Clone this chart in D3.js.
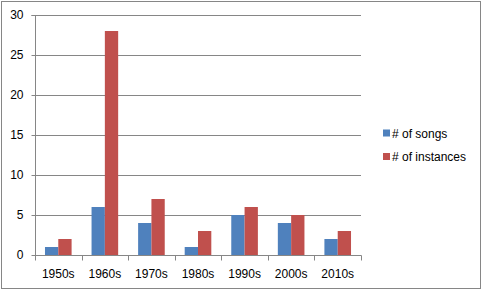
<!DOCTYPE html>
<html><head><meta charset="utf-8">
<script src="https://cdn.jsdelivr.net/npm/d3@7"></script>
<style>body{margin:0;background:#fff}svg{display:block}text{font-family:"Liberation Sans",Arial,sans-serif;font-size:12px;fill:#000}</style>
</head><body>
<svg id="c" width="483" height="291"></svg>
<script>
const categories = ["1950s","1960s","1970s","1980s","1990s","2000s","2010s"];
const songs = [1,6,4,1,5,4,2];
const instances = [2,28,7,3,6,5,3];
const seriesNames = ["# of songs","# of instances"];
const colors = ["#4F81BD","#C0504D"];
const yTicks = [0,5,10,15,20,25,30];

const svg = d3.select("#c");
svg.append("rect").attr("x",1.5).attr("y",1.5).attr("width",479).attr("height",287)
  .attr("fill","#fff").attr("stroke","#868686").attr("stroke-width",1);

const L=35, R=361, T=15, B=255;
const x = d3.scaleBand().domain(categories).range([L,R]).paddingInner(0).paddingOuter(0);
const y = d3.scaleLinear().domain([0,30]).range([B,T]);
const w = x.bandwidth()/3.5;

// gridlines
svg.append("g").selectAll("line").data(yTicks.filter(d=>d>0)).join("line")
  .attr("x1",L).attr("x2",R).attr("y1",d=>Math.round(y(d))+0.5).attr("y2",d=>Math.round(y(d))+0.5)
  .attr("stroke","#868686");

// bars
const data = [songs, instances];
data.forEach((vals,si)=>{
  svg.append("g").selectAll("rect").data(vals).join("rect")
    .attr("x",(d,i)=>x(categories[i]) + 0.75*w + si*w)
    .attr("width",w)
    .attr("y",d=>y(d))
    .attr("height",d=>B-y(d))
    .attr("fill",colors[si]);
});

// y axis
const ya = svg.append("g").attr("transform",`translate(${L+0.5},0)`)
  .call(d3.axisLeft(y).tickValues(yTicks).tickSize(4).tickPadding(8));
ya.select(".domain").attr("stroke","#868686").attr("d",`M-4,${T+0.5}H0V${B+0.5}`);
ya.selectAll(".tick line").attr("stroke","#868686");
ya.selectAll(".tick").attr("transform",d=>`translate(0,${Math.round(y(d))+0.5})`);
ya.selectAll("text").attr("font-size",12).attr("font-family","Liberation Sans, Arial, sans-serif").attr("fill","#000");

// x axis
const xa = svg.append("g").attr("transform",`translate(0,${B+0.5})`);
xa.append("line").attr("x1",L).attr("x2",R+0.5).attr("y1",0).attr("y2",0).attr("stroke","#868686");
const edges = categories.map(c=>x(c)).concat([R]);
xa.selectAll("line.t").data(edges).join("line").attr("class","t")
  .attr("x1",d=>Math.round(d)+0.5).attr("x2",d=>Math.round(d)+0.5).attr("y1",0).attr("y2",5).attr("stroke","#868686");
xa.selectAll("text").data(categories).join("text")
  .attr("x",d=>x(d)+x.bandwidth()/2).attr("y",22).attr("text-anchor","middle").text(d=>d);

// legend
const lg = svg.append("g");
seriesNames.forEach((n,i)=>{
  const cy = 133 + i*23.5;
  lg.append("rect").attr("x",383).attr("y",cy-3.5).attr("width",7).attr("height",7).attr("fill",colors[i]);
  lg.append("text").attr("x",392).attr("y",cy+4.5).text(n);
});
</script>
</body></html>
